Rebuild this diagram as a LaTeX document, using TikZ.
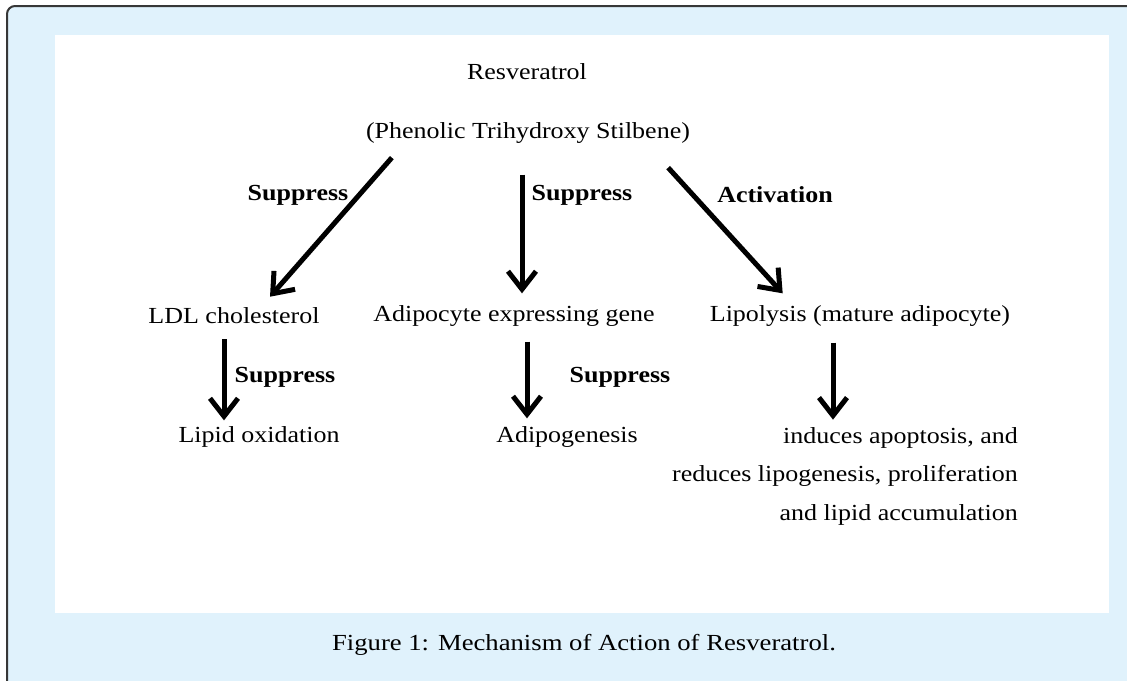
\documentclass[tikz,border=0pt]{standalone}
\usepackage{fontspec}
\setmainfont[FakeStretch=1.13]{Liberation Serif}
\newfontfamily\capfont[FakeStretch=1.16]{Liberation Serif}
\usetikzlibrary{arrows.meta}
\definecolor{paleblue}{RGB}{224,242,252}
\definecolor{framegray}{RGB}{55,55,55}

\begin{document}
\begin{tikzpicture}[x=1pt,y=-1pt,
  txt/.style={font=\fontsize{23}{38.5}\selectfont, inner sep=0pt},
  lbl/.style={font=\fontsize{23}{28}\selectfont\bfseries, inner sep=0pt},
  arr/.style={line width=5pt, -{Straight Barb[length=18pt,width=28pt]}}]
\useasboundingbox (0,0) rectangle (1127,680);
\clip (0,0) rectangle (1127,680);
% frame and white panel
\draw[framegray, line width=2pt, fill=paleblue, rounded corners=8pt] (7,6) rectangle (1160,720);
\fill[white] (55,35) rectangle (1109,613);

% top
\node[txt] (res) at (527,72) {Resveratrol};
\node[txt] (stil) at (528,133) {(Phenolic Trihydroxy Stilbene)};

% middle row
\node[txt] (ldl) at (234,316) {LDL cholesterol};
\node[txt] (gene) at (514,316) {Adipocyte expressing gene};
\node[txt] (lipo) at (860,316) {Lipolysis (mature adipocyte)};

% bottom row
\node[txt] (oxid) at (259,437) {Lipid oxidation};
\node[txt] (adipo) at (567,437) {Adipogenesis};
\node[txt, align=right, anchor=north east] (apop) at (1018,427)
  {induces apoptosis, and\\reduces lipogenesis, proliferation\\and lipid accumulation};

% arrow labels
\node[lbl] (s1) at (298,195) {Suppress};
\node[lbl] (s2) at (582,195) {Suppress};
\node[lbl] (act) at (775,195) {Activation};
\node[lbl] (s3) at (285,377) {Suppress};
\node[lbl] (s4) at (620,377) {Suppress};

% arrows
\draw[arr] ([shift={(26,14)}]stil.south west) -- ([shift={(36,-11)}]ldl.north);
\draw[arr] ([shift={(-6,31)}]stil.south) -- ([shift={(8,-12)}]gene.north);
\draw[arr] ([shift={(-22,24)}]stil.south east) -- ([shift={(73,-12)}]lipo.north west);
\draw[arr] ([shift={(-10,15)}]ldl.south) -- ([shift={(-35,-6)}]oxid.north);
\draw[arr] ([shift={(13,15)}]gene.south) -- ([shift={(-40,-8)}]adipo.north);
\draw[arr] ([shift={(-27,16)}]lipo.south) -- ++(0,77);

% caption
\node[font=\capfont\fontsize{23}{28}\selectfont, inner sep=0pt] (cap) at (584,645)
  {Figure 1: Mechanism of Action of Resveratrol.};
\end{tikzpicture}
\end{document}
